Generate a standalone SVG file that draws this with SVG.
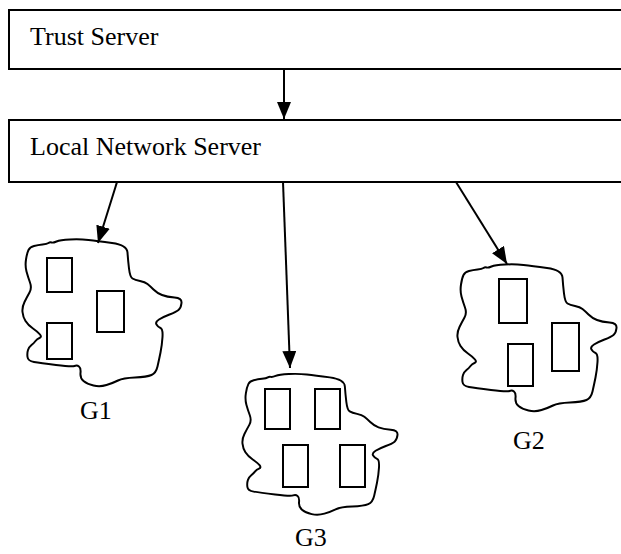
<svg xmlns="http://www.w3.org/2000/svg" xmlns:xlink="http://www.w3.org/1999/xlink" width="621" height="554" viewBox="0 0 621 554">
  <style>
    .box { fill: #fff; stroke: #000; stroke-width: 2; }
    .lbl { font-family: "Liberation Serif", "Times New Roman", serif; font-size: 26px; fill: #000; }
    .edge { stroke: #000; stroke-width: 2; fill: none; marker-end: url(#arrow); }
    .cloud { fill: #fff; stroke: #000; stroke-width: 2; stroke-linejoin: round; }
    .host { fill: #fff; stroke: #000; stroke-width: 2; }
  </style>
  <defs>
    <marker id="arrow" markerUnits="userSpaceOnUse" markerWidth="18" markerHeight="14" refX="17" refY="7" orient="auto">
      <path d="M0,0 L17,7 L0,14 Z" fill="#000"/>
    </marker>
    <!-- irregular outline of a group area -->
    <path id="blob" d="M28.5,250 Q30,247 34,246 Q38,245 42.5,244.5 Q47,244 48.5,243 Q50,242 51.5,242.5 Q53,243 56.5,241.5 Q60,240 70,239.5 Q80,239 88.5,240 Q97,241 112,243 Q127,245 127.5,252.5 Q128,260 129,268.5 Q130,277 132.5,278.5 Q135,280 140,281 Q145,282 147.5,284 Q150,286 153.5,289.5 Q157,293 162,295 Q167,297 174.5,297.5 Q182,298 181.5,303 Q181,308 178.5,310 Q176,312 169.5,314.5 Q163,317 159,319.5 Q155,322 156.5,324.5 Q158,327 160.5,328 Q163,329 162.5,337 Q162,345 160.5,352.5 Q159,360 157.5,366.5 Q156,373 151.5,375 Q147,377 135,377.5 Q123,378 118,380.5 Q113,383 106.5,385 Q100,387 93.5,385.5 Q87,384 83.5,381 Q80,378 80.5,373 Q81,368 79,366.5 Q77,365 74.5,366 Q72,367 56,365 Q40,363 34,362 Q28,361 27.5,357 Q27,353 28,350 Q29,347 31.5,345 Q34,343 35.5,341 Q37,339 39.5,338 Q42,337 40,334.5 Q38,332 33,328.5 Q28,325 25.5,321 Q23,317 22.5,312 Q22,307 24.5,302 Q27,297 29.5,292.5 Q32,288 30,282.5 Q28,277 26.5,271.5 Q25,266 26,259.5 Q27,253 28.5,250 Z"/>
  </defs>

  <rect width="621" height="554" fill="#fff"/>

  <g id="trust-server">
    <rect class="box" x="9" y="10" width="620" height="59"/>
    <text class="lbl" x="30" y="45">Trust Server</text>
  </g>

  <g id="local-network-server">
    <rect class="box" x="9" y="120" width="620" height="62"/>
    <text class="lbl" x="30" y="155">Local Network Server</text>
  </g>

  <g id="G1">
    <use xlink:href="#blob" class="cloud"/>
    <rect class="host" x="47" y="258" width="25" height="34"/>
    <rect class="host" x="97" y="291" width="27" height="41"/>
    <rect class="host" x="47" y="323" width="25" height="36"/>
    <text class="lbl" x="80" y="419">G1</text>
  </g>

  <g id="G2">
    <use xlink:href="#blob" class="cloud" transform="translate(435,25)"/>
    <rect class="host" x="499" y="279" width="28" height="44"/>
    <rect class="host" x="552" y="323" width="27" height="48"/>
    <rect class="host" x="508" y="344" width="25" height="42"/>
    <text class="lbl" x="513" y="449">G2</text>
  </g>

  <g id="G3">
    <use xlink:href="#blob" class="cloud" transform="translate(242,374) scale(0.975,0.96) translate(-22,-239.5)"/>
    <rect class="host" x="265" y="389" width="25" height="40"/>
    <rect class="host" x="315" y="389" width="25" height="40"/>
    <rect class="host" x="283" y="445" width="25" height="42"/>
    <rect class="host" x="340" y="445" width="25" height="42"/>
    <text class="lbl" x="295" y="546">G3</text>
  </g>

  <g id="connectors">
    <line class="edge" x1="284" y1="70" x2="284" y2="119"/>
    <line class="edge" x1="117" y1="182" x2="98" y2="243"/>
    <line class="edge" x1="283" y1="182" x2="290" y2="368"/>
    <line class="edge" x1="456" y1="182" x2="507" y2="264"/>
  </g>
</svg>
